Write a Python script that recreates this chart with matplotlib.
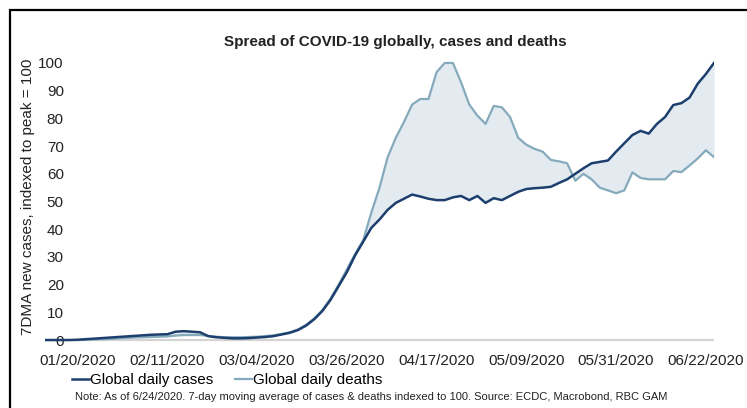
import matplotlib
matplotlib.use("Agg")
import matplotlib.pyplot as plt
import matplotlib.dates as mdates
import matplotlib.patches as patches
import numpy as np
import pandas as pd

plt.rcParams['font.family'] = ['Liberation Sans', 'DejaVu Sans']

# 7-day moving averages, indexed to peak = 100, every 2nd day from 01/12/2020 to 06/24/2020
dates = pd.date_range('2020-01-12', '2020-06-24', freq='2D')

cases = [
    0, 0, 0, 0,
    0.1, 0.3, 0.5, 0.7, 0.9, 1.1, 1.3, 1.5, 1.7, 1.9, 2.0, 2.1,
    3.0, 3.2, 3.0, 2.8, 1.4, 1.0, 0.8, 0.6, 0.6, 0.7, 0.9, 1.1,
    1.4, 2.0, 2.6, 3.6, 5.2, 7.5, 10.5, 14.5, 19.5, 24.5, 30.5, 35.5,
    40.5, 43.5, 47.0, 49.5, 51.0, 52.5, 51.8, 51.0, 50.5, 50.5, 51.5, 52.0,
    50.5, 52.0, 49.5, 51.2, 50.5, 52.0, 53.5, 54.5, 54.8, 55.0, 55.3, 56.7,
    58.0, 60.0, 62.0, 63.8, 64.3, 64.8, 68.0, 71.0, 74.0, 75.5, 74.5, 78.0,
    80.5, 84.8, 85.5, 87.5, 92.5, 96.0, 100.0,
]

deaths = [
    np.nan, np.nan, np.nan, np.nan,
    0, 0.1, 0.2, 0.3, 0.4, 0.6, 0.8, 0.9, 1.0, 1.1, 1.2, 1.3,
    1.6, 1.8, 1.8, 1.8, 1.5, 1.2, 1.0, 1.0, 1.0, 1.1, 1.2, 1.4,
    1.7, 2.2, 2.8, 3.8, 5.5, 7.8, 10.8, 15.0, 20.0, 25.5, 31.0, 36.0,
    46.0, 55.0, 66.0, 73.0, 78.7, 85.0, 87.0, 87.0, 96.7, 100.0, 100.0, 93.0,
    85.0, 81.0, 78.0, 84.5, 84.0, 80.5, 73.0, 70.5, 69.0, 68.0, 65.0, 64.5,
    63.8, 57.5, 60.0, 58.0, 55.0, 54.0, 53.0, 54.0, 60.5, 58.5, 58.0, 58.0,
    58.0, 61.0, 60.6, 63.0, 65.5, 68.5, 66.0,
]

tick_dates = pd.date_range('2020-01-20', '2020-06-22', freq='22D')
y_ticks = [0, 10, 20, 30, 40, 50, 60, 70, 80, 90, 100]

cases_color = '#1c3f6e'
deaths_color = '#85aabb'
fill_color = '#e3ebf0'

fig = plt.figure(figsize=(7.47, 4.08), dpi=100)
ax = fig.add_axes([45 / 747, 1 - 342.8 / 408, (714 - 45) / 747, 282.6 / 408])

ax.fill_between(dates, cases, deaths, color=fill_color, lw=0, zorder=1)
ax.axhline(0, color='#d4d4d4', lw=1.6, zorder=0)
ax.plot(dates, deaths, color=deaths_color, lw=1.6, zorder=2, label='Global daily deaths')
ax.plot(dates, cases, color=cases_color, lw=1.8, zorder=3, label='Global daily cases')

ax.set_xlim(dates[0], dates[-1])
ax.set_ylim(-1, 101)
ax.set_xticks(tick_dates)
ax.xaxis.set_major_formatter(mdates.DateFormatter('%m/%d/%Y'))
ax.set_yticks(y_ticks)
ax.tick_params(axis='x', length=0, pad=8, labelsize=11, colors='#222222')
ax.tick_params(axis='y', length=0, pad=-13.5, labelsize=11, colors='#222222')
for s in ax.spines.values():
    s.set_visible(False)

fig.text(395 / 747, 1 - 42 / 408, 'Spread of COVID-19 globally, cases and deaths',
         ha='center', va='center', fontsize=11, fontweight='bold', color='#222222')
fig.text(28 / 747, 1 - 197 / 408, '7DMA new cases, indexed to peak = 100',
         rotation=90, ha='center', va='center', fontsize=11, color='#222222')

handles, labels = ax.get_legend_handles_labels()
fig.legend(handles[::-1], labels[::-1], loc='center left',
           bbox_to_anchor=(72 / 747, 1 - 380 / 408), ncol=2, frameon=False,
           fontsize=11, handlelength=1.1, handletextpad=0.1, columnspacing=1.4,
           borderaxespad=0, borderpad=0)

fig.text(75 / 747, 1 - 397 / 408,
         'Note: As of 6/24/2020. 7-day moving average of cases & deaths indexed to 100. '
         'Source: ECDC, Macrobond, RBC GAM',
         ha='left', va='center', fontsize=8, color='#222222')

# black frame, open to the right and bottom (cropped)
fig.add_artist(patches.Rectangle((10 / 747, -0.1), 1.0, 1.1 - 10 / 408, fill=False,
                                 lw=1.6, edgecolor='black', transform=fig.transFigure))

fig.savefig('out.png', dpi=100)
